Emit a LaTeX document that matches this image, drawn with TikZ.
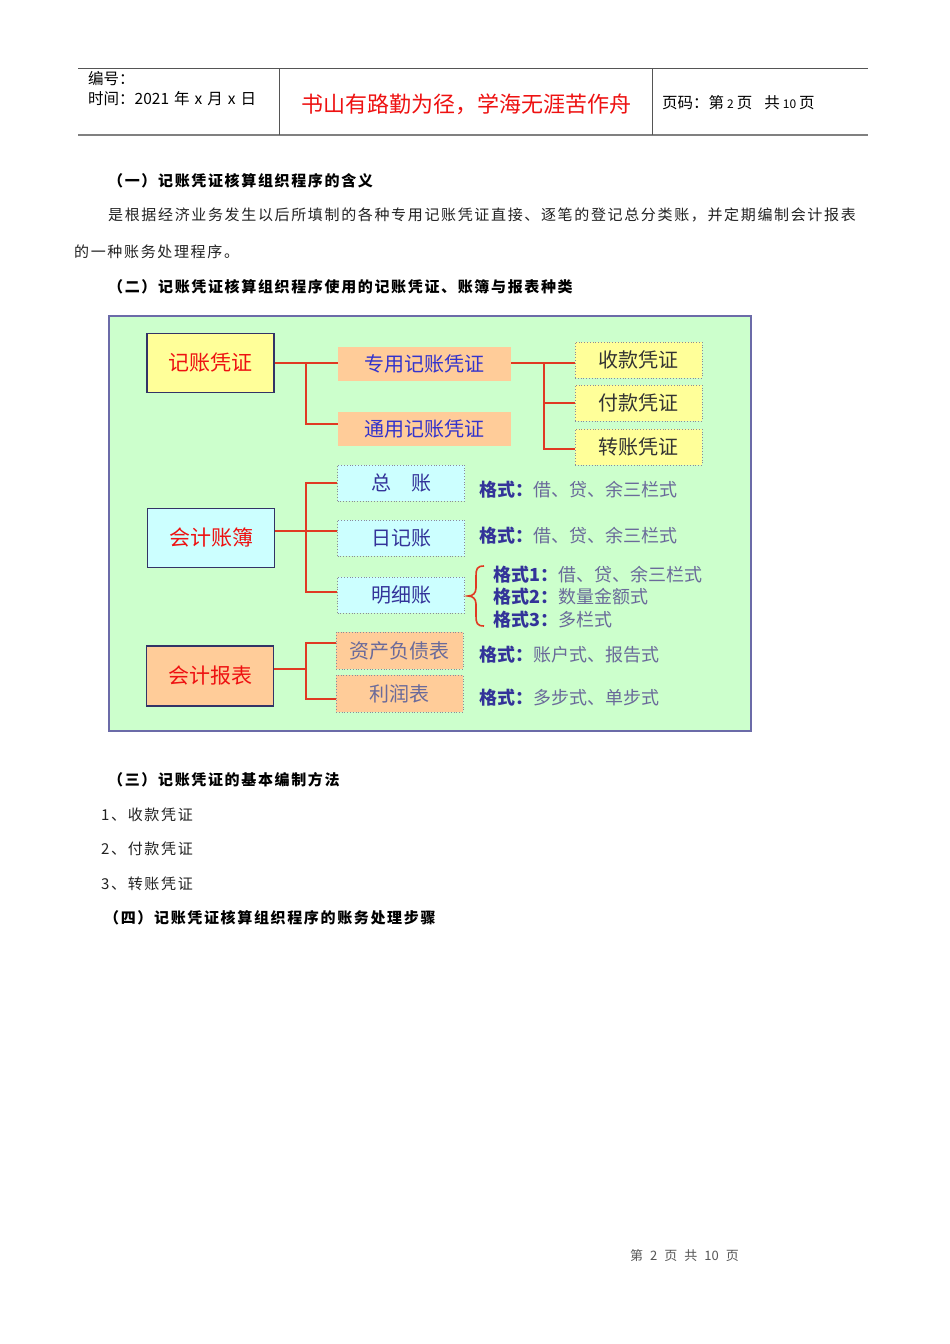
\documentclass[tikz,border=0pt]{standalone}
\usepackage{fontspec}
\setmainfont{Noto Sans CJK SC}
\newfontfamily\bodyfont[LetterSpace=11]{Noto Sans CJK SC}
\usetikzlibrary{calc}
\definecolor{bggreen}{HTML}{CCFFCC}
\definecolor{frameblue}{HTML}{6B6BA8}
\definecolor{navy}{HTML}{333366}
\definecolor{boxyellow}{HTML}{FFFF99}
\definecolor{boxcyan}{HTML}{CCFFFF}
\definecolor{peach}{HTML}{FFCC99}
\definecolor{linered}{HTML}{E03A22}
\definecolor{titlered}{HTML}{EE1111}
\definecolor{subblue}{HTML}{3333CC}
\definecolor{darkblue}{HTML}{333399}
\definecolor{fmtgray}{HTML}{6A6A9A}
\definecolor{dotgray}{HTML}{8A8A9A}
\definecolor{bodytext}{HTML}{222222}
\definecolor{hdrgray}{HTML}{555555}
\begin{document}
\begin{tikzpicture}[x=1pt,y=-1pt,
  mainbox/.style={draw=navy, line width=1.2pt, minimum width=127pt, minimum height=59pt, inner sep=0pt, font=\fontsize{21}{25}\selectfont, text=titlered},
  subbox/.style={fill=peach, minimum width=173pt, minimum height=34pt, inner sep=0pt, font=\fontsize{20}{24}\selectfont, text=subblue},
  dotbox/.style={draw=dotgray, dotted, line width=0.8pt, minimum width=127pt, minimum height=36pt, inner sep=0pt, font=\fontsize{20}{24}\selectfont},
  conn/.style={draw=linered, line width=2pt},
  fmt/.style={anchor=west, inner sep=0pt, font=\fontsize{18}{21}\selectfont, text=fmtgray},
  body/.style={anchor=west, inner sep=0pt, font=\bodyfont\fontsize{15}{18}\selectfont, text=bodytext},
  head/.style={anchor=west, inner sep=0pt, font=\bodyfont\bfseries\fontsize{15}{18}\selectfont, text=black},
  hdr/.style={anchor=west, inner sep=0pt, font=\fontsize{15.5}{18}\selectfont}
]
\useasboundingbox (0,0) rectangle (950,1344);
\fill[white] (0,0) rectangle (950,1344);

% header
\draw[hdrgray, line width=0.8pt] (78,68) -- (868,68);
\draw[gray, line width=1.8pt] (78,135) -- (868,135);
\draw[hdrgray, line width=0.8pt] (279,68) -- (279,135);
\draw[hdrgray, line width=0.8pt] (652,68) -- (652,135);
\node[hdr] (bh) at (88,79) {编号：};
\node[hdr] (sj) at (88,99) {时间：2021\hspace{5pt}年\hspace{5pt}x\hspace{5pt}月\hspace{5pt}x\hspace{5pt}日};
\node[inner sep=0pt, font=\fontsize{22}{26}\selectfont, text=titlered] (motto) at (466,104) {书山有路勤为径，学海无涯苦作舟};
\node[hdr] (ym) at (662,103) {页码：第\hspace{3pt}{\fontsize{12}{14}\selectfont 2}\hspace{3pt}页\hspace{12pt}共\hspace{3pt}{\fontsize{12}{14}\selectfont 10}\hspace{3pt}页};

% text above
\node[head] (h1) at (108,181) {（一）记账凭证核算组织程序的含义};
\node[body] (p1) at (108,215) {是根据经济业务发生以后所填制的各种专用记账凭证直接、逐笔的登记总分类账，并定期编制会计报表};
\node[body] (p2) at (74,252) {的一种账务处理程序。};
\node[head] (h2) at (108,287) {（二）记账凭证核算组织程序使用的记账凭证、账簿与报表种类};

% diagram frame
\draw[draw=frameblue, fill=bggreen, line width=1.3pt] (109,316) rectangle (751,731);

% group 1
\node[mainbox, fill=boxyellow] (jzpz) at (210.5,363) {记账凭证};
\node[subbox] (zy) at (424.5,364) {专用记账凭证};
\node[subbox] (ty) at (424.5,429) {通用记账凭证};
\node[dotbox, fill=boxyellow, text=black!80] (sk) at (638.5,360) {收款凭证};
\node[dotbox, fill=boxyellow, text=black!80] (fk) at (638.5,403) {付款凭证};
\node[dotbox, fill=boxyellow, text=black!80] (zz) at (638.5,447) {转账凭证};
\coordinate (b1) at (306,363);
\coordinate (b1e) at (306,424);
\coordinate (b2) at (544,363);
\draw[conn] (jzpz.east |- b1) -- (zy.west |- b1);
\draw[conn] (b1) -- (b1e) -- (ty.west |- b1e);
\draw[conn] (zy.east |- b2) -- (sk.west |- b2);
\draw[conn] (b2) |- (fk.west);
\draw[conn] (b2) |- ($(zz.west)+(0,2)$);

% group 2
\node[mainbox, fill=boxcyan] (kjzb) at (211,538) {会计账簿};
\node[dotbox, fill=boxcyan, text=darkblue] (zzh) at (401,483) {总\hspace{1em}账};
\node[dotbox, fill=boxcyan, text=darkblue] (rjz) at (401,538) {日记账};
\node[dotbox, fill=boxcyan, text=darkblue] (mxz) at (401,595) {明细账};
\coordinate (b3) at (306,531);
\coordinate (b3t) at (306,483);
\coordinate (b3b) at (306,592);
\draw[conn] (kjzb.east |- b3) -- (rjz.west |- b3);
\draw[conn] (zzh.west |- b3t) -- (b3t) -- (b3b) -- (mxz.west |- b3b);

\node[fmt] (f1) at (479,490) {\textbf{\color{darkblue}格式：}借、贷、余三栏式};
\node[fmt] (f2) at (479,536) {\textbf{\color{darkblue}格式：}借、贷、余三栏式};
\node[fmt] (f3) at (493,575) {\textbf{\color{darkblue}格式1：}借、贷、余三栏式};
\node[fmt] (f4) at (493,597) {\textbf{\color{darkblue}格式2：}数量金额式};
\node[fmt] (f5) at (493,620) {\textbf{\color{darkblue}格式3：}多栏式};
\draw[linered, line width=1.6pt] (484,566) .. controls (477,566) and (476,569) .. (476,576) -- (476,588) .. controls (476,593) and (473,596) .. (468,596) .. controls (473,596) and (476,599) .. (476,604) -- (476,616) .. controls (476,623) and (477,626) .. (484,626);

% group 3
\node[mainbox, fill=peach, minimum height=60pt] (kjbb) at (210,676) {会计报表};
\node[dotbox, fill=peach, minimum height=37pt, text=fmtgray] (zcfz) at (399.5,650.5) {资产负债表};
\node[dotbox, fill=peach, minimum height=37pt, text=fmtgray] (lrb) at (399.5,693.5) {利润表};
\coordinate (b4) at (306,669);
\coordinate (b4t) at (306,643);
\coordinate (b4b) at (306,699);
\draw[conn] (kjbb.east |- b4) -- (b4);
\draw[conn] (zcfz.west |- b4t) -- (b4t) -- (b4b) -- (lrb.west |- b4b);
\node[fmt] (f6) at (479,655) {\textbf{\color{darkblue}格式：}账户式、报告式};
\node[fmt] (f7) at (479,698) {\textbf{\color{darkblue}格式：}多步式、单步式};

% text below
\node[head] (h3) at (108,780) {（三）记账凭证的基本编制方法};
\node[body] (l1) at (101,815) {1、收款凭证};
\node[body] (l2) at (101,849) {2、付款凭证};
\node[body] (l3) at (101,884) {3、转账凭证};
\node[head] (h4) at (104,918) {（四）记账凭证核算组织程序的账务处理步骤};

% footer
\node[anchor=west, inner sep=0pt, font=\fontsize{13}{15}\selectfont, text=hdrgray] (ft) at (630,1256) {第\hspace{7pt}2\hspace{7pt}页\hspace{7pt}共\hspace{7pt}10\hspace{7pt}页};
\end{tikzpicture}
\end{document}
